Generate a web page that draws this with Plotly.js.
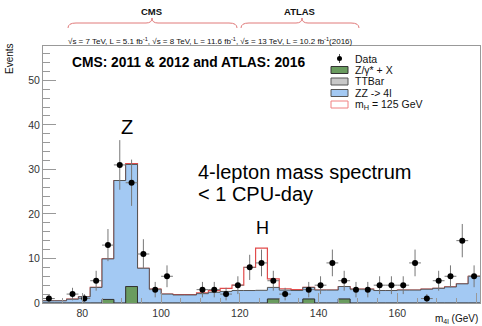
<!DOCTYPE html>
<html><head><meta charset="utf-8">
<script src="https://cdn.plot.ly/plotly-3.0.1.min.js"></script>
<style>html,body{margin:0;padding:0;background:#fff;}#chart{width:482px;height:326px;}</style>
</head><body><div id="chart"></div>
<script>
// ---- data (3 GeV bins from 70 to 181) ----
const binCenters = [71.5,74.5,77.5,80.5,83.5,86.5,89.5,92.5,95.5,98.5,101.5,104.5,107.5,110.5,113.5,116.5,119.5,122.5,125.5,128.5,131.5,134.5,137.5,140.5,143.5,146.5,149.5,152.5,155.5,158.5,161.5,164.5,167.5,170.5,173.5,176.5,179.5];
const dataCounts = [1,0,2,1,5,13,31,27,11,3,6,0,0,3,3,2,4,8,9,5,2,0,3,4,9,5,3,3,4,4,4,9,1,5,6,14,6];
const zxVals   = [0,0,0,0,0,0.8,0,3.7,0,0,0,0,0,0,0,0,0,0,0,0.9,0,0,0.9,0,0,0.9,0,0,0,0,0,0,0,0,0,0,0];
const ttbarVals= [0,0,0,0,0,0,0,0,0,0,0,0,0,0,0,0,0,0,0,0,0,0,0,0,0,0,0,0,0,0,0,0,0,0,0,0,0];
const zzVals   = [0.5,0.5,0.85,1.4,3.5,9.1,27.5,27.4,7.8,3.1,2.0,1.8,1.8,2.1,2.4,2.6,2.8,2.8,2.85,2.6,2.9,2.8,2.6,2.9,2.9,2.8,3.1,3.1,2.8,2.8,2.9,2.9,3.1,3.3,3.6,4.3,6.0];
const higgsVals= [0,0,0,0,0,0,0,0.2,0,0,0,0.1,0.1,0.2,0.4,0.7,1.2,5.2,9.45,1.9,0.3,0.2,0,0,0,0,0,0,0,0,0,0,0,0,0,0,0];
const binWidth = 3;
const legendLabels = ['Data','Z/γ* + X','TTBar','ZZ -> 4l','m<sub>H</sub> = 125 GeV'];
const xTitle = 'm<sub>4l</sub> (GeV)';
const yTitle = 'Events';
const mainTitle = 'CMS: 2011 & 2012 and ATLAS: 2016';
const energyText = '√s = 7 TeV, L = 5.1 fb<sup>-1</sup>, √s = 8 TeV, L = 11.6 fb<sup>-1</sup>, √s = 13 TeV, L = 10.2 fb<sup>-1</sup>(2016)';

// ---- colours ----
const cBlue = '#a3c9f3', cGreen = '#6a9c5f', cGray = '#c8c8c8', cRed = '#e24b4b', cLine = '#555';

// stacked sums
const stackZX = zxVals.slice();
const stackTT = zxVals.map((v,i)=>v+ttbarVals[i]);
const stackBkg = stackTT.map((v,i)=>v+zzVals[i]);
const stackAll = stackBkg.map((v,i)=>v+higgsVals[i]);

function stepXY(vals){
  const xs = binCenters.map(c=>c-binWidth/2);
  xs.push(binCenters[binCenters.length-1]+binWidth/2);
  const ys = vals.slice(); ys.push(vals[vals.length-1]);
  return {x:xs, y:ys};
}

const sAll = stepXY(stackAll), sBkg = stepXY(stackBkg), sTT = stepXY(stackTT), sZX = stepXY(stackZX);

const traces = [
  {type:'scatter', mode:'lines', x:sAll.x, y:sAll.y, line:{shape:'hv', color:cRed, width:1.2}, hoverinfo:'skip'},
  {type:'scatter', mode:'lines', x:sBkg.x, y:sBkg.y, line:{shape:'hv', color:cLine, width:1}, fill:'tozeroy', fillcolor:cBlue, hoverinfo:'skip'},
  {type:'scatter', mode:'lines', x:sTT.x, y:sTT.y, line:{shape:'hv', color:cLine, width:0.5}, fill:'tozeroy', fillcolor:cGray, hoverinfo:'skip'},
  {type:'scatter', mode:'lines', x:sZX.x, y:sZX.y, line:{shape:'hv', color:'#333', width:1}, fill:'tozeroy', fillcolor:cGreen, hoverinfo:'skip'},
  {type:'scatter', mode:'markers',
   x:binCenters.filter((c,i)=>dataCounts[i]>0),
   y:dataCounts.filter(v=>v>0),
   marker:{color:'#000', size:6},
   error_y:{type:'data', array:dataCounts.filter(v=>v>0).map(v=>Math.sqrt(v)), color:'#777', thickness:1, width:0},
   error_x:{type:'constant', value:binWidth/2, color:'#777', thickness:1, width:0},
   hoverinfo:'skip'}
];

// pixel -> paper helpers
const L=43, R=2, T=46, B=23, W=482, H=326;
const pw = W-L-R, ph = H-T-B;
const fx = px => (px-L)/pw;
const fy = py => (H-B-py)/ph;
function brace(x0,x1,xp,yb,ym,ypk){
  const P=(x,y)=>fx(x).toFixed(5)+','+fy(y).toFixed(5);
  return 'M'+P(x0,yb)+' Q'+P(x0,ym)+' '+P(x0+8,ym)+' L'+P(xp-6,ym)+' Q'+P(xp,ym)+' '+P(xp,ypk)+
         ' Q'+P(xp,ym)+' '+P(xp+6,ym)+' L'+P(x1-8,ym)+' Q'+P(x1,ym)+' '+P(x1,yb);
}

const font = 'Liberation Sans, Arial, Helvetica, sans-serif';
const shapes = [
  {type:'path', xref:'paper', yref:'paper', path:brace(68,237,152,28,23,18), line:{color:'#e07a7a', width:1}},
  {type:'path', xref:'paper', yref:'paper', path:brace(241,359,302,28,23,18), line:{color:'#e07a7a', width:1}},
];
// legend symbols (paper coords)
const legY = [58.5, 70, 81.5, 93, 104.5];
const boxFill = [null, cGreen, cGray, cBlue, '#ffffff'];
const boxLine = [null, '#333', '#555', '#555', '#f08080'];
for (let i=1;i<5;i++){
  shapes.push({type:'rect', xref:'paper', yref:'paper', x0:fx(331), x1:fx(348), y0:fy(legY[i]-3.5), y1:fy(legY[i]+3.5),
    fillcolor:boxFill[i], line:{color:boxLine[i], width:1}});
}
shapes.push({type:'line', xref:'paper', yref:'paper', x0:fx(339.5), x1:fx(339.5), y0:fy(legY[0]+4.5), y1:fy(legY[0]-4.5), line:{color:'#555', width:1}});
shapes.push({type:'circle', xref:'paper', yref:'paper', x0:fx(337), x1:fx(342), y0:fy(legY[0]+2.5), y1:fy(legY[0]-2.5), fillcolor:'#000', line:{color:'#000', width:0}});

function ann(px, py, text, size, opts){
  return Object.assign({xref:'paper', yref:'paper', x:fx(px), y:fy(py), xanchor:'center', yanchor:'middle',
    text:text, showarrow:false, font:{family:font, size:size, color:'#111'}}, opts||{});
}
const annotations = [
  ann(151, 11, '<b>CMS</b>', 9.5),
  ann(299, 11, '<b>ATLAS</b>', 9.5),
  ann(66, 41, energyText, 8, {xanchor:'left'}),
  ann(70, 62, '<b>'+mainTitle+'</b>', 13.8, {xanchor:'left', font:{family:font, size:13.8, color:'#000'}}),
  ann(127, 127, 'Z', 20, {font:{family:font, size:20, color:'#000'}}),
  ann(262, 228, 'H', 18, {font:{family:font, size:18, color:'#000'}}),
  ann(196, 172, '4-lepton mass spectrum', 20, {xanchor:'left', font:{family:font, size:20, color:'#000'}}),
  ann(196, 194, '< 1 CPU-day', 20, {xanchor:'left', font:{family:font, size:20, color:'#000'}}),
  ann(9, 59, yTitle, 10, {textangle:-90}),
  ann(480, 318.5, xTitle, 10, {xanchor:'right'}),
];
for (let i=0;i<5;i++){
  annotations.push(ann(353, legY[i], legendLabels[i], 10.5, {xanchor:'left'}));
}

const layout = {
  width:W, height:H, margin:{l:L, r:R, t:T, b:B, pad:0},
  paper_bgcolor:'#fff', plot_bgcolor:'#fff', showlegend:false,
  font:{family:font, size:10.5, color:'#333'},
  xaxis:{range:[70,181], tick0:0, dtick:20, ticks:'inside', ticklen:10, tickcolor:'#999', tickwidth:1,
         minor:{dtick:5, ticks:'inside', ticklen:5, tickcolor:'#999'},
         showline:true, mirror:true, linecolor:'#999', linewidth:1, showgrid:false, zeroline:false,
         tickfont:{family:font, size:10.5, color:'#333'}},
  yaxis:{range:[0,57.7], tick0:0, dtick:10, ticks:'inside', ticklen:13, tickcolor:'#999', tickwidth:1,
         minor:{dtick:2, ticks:'inside', ticklen:7, tickcolor:'#999'},
         showline:true, mirror:true, linecolor:'#999', linewidth:1, showgrid:false, zeroline:false,
         tickfont:{family:font, size:10.5, color:'#333'}},
  shapes:shapes, annotations:annotations
};
Plotly.newPlot('chart', traces, layout, {staticPlot:true, displayModeBar:false});
</script>
</body></html>
